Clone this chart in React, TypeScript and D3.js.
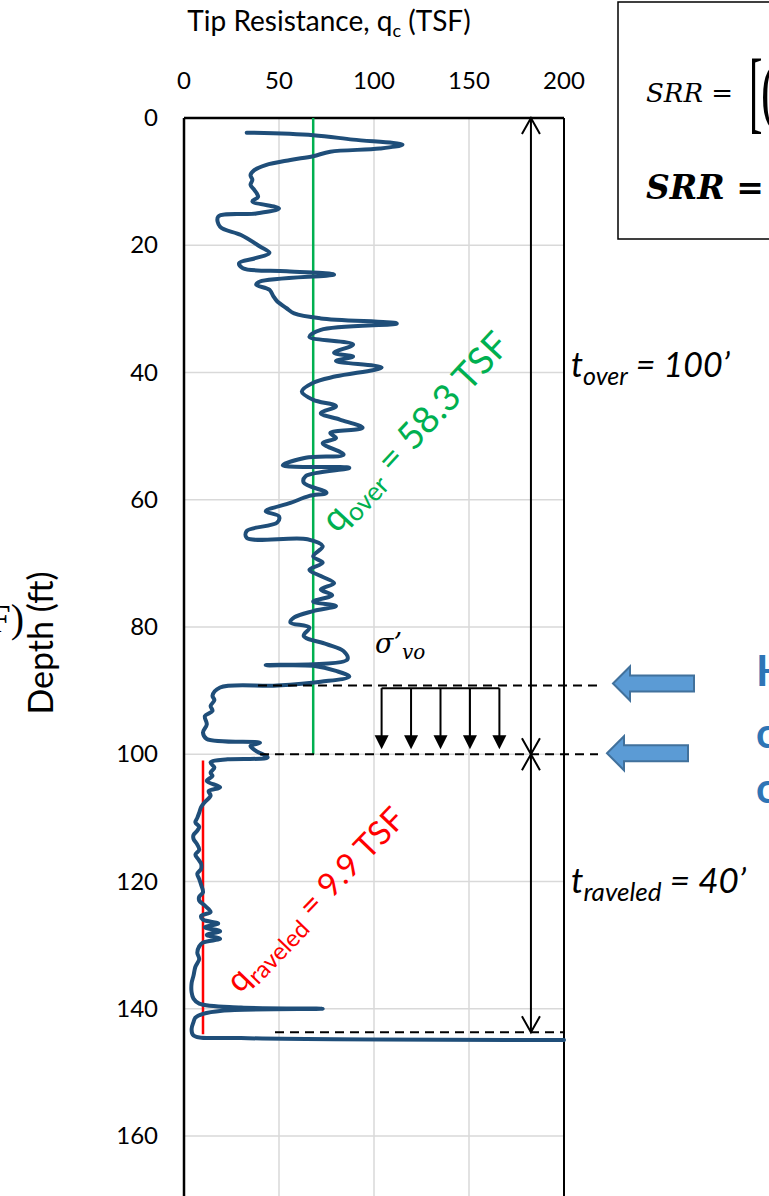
import React from 'react';
import * as d3 from 'd3';

// CPT sounding
const depthFt = [2.3, 2.7, 3.4, 4.2, 4.8, 5.3, 6.0, 6.6, 7.4, 8.2, 9.0, 9.7, 10.5, 11.3, 12.4, 13.1, 14.2, 15.0, 15.5, 17.1, 18.4, 20.2,
  21.2, 22.0, 22.8, 23.6, 24.1, 24.6, 25.7, 26.2, 27.0, 28.0, 28.8, 29.9, 30.7, 31.5, 32.3, 33.3, 34.4, 35.6, 36.9, 37.5, 38.2,
  39.2, 40.6, 41.6, 43.0, 44.3, 45.3, 46.4, 47.4, 48.7, 49.5, 50.3, 51.1, 52.9, 53.4, 54.6, 55.0, 56.3, 57.3, 58.9, 59.4,
  60.5, 61.8, 62.6, 63.6, 64.9, 66.0, 66.2, 67.3, 68.9, 69.9, 71.0, 72.0, 73.1, 74.1, 75.0, 76.0, 76.7, 77.5, 78.5, 79.3,
  80.1, 81.4, 82.7, 83.8, 85.1, 86.0, 86.1, 86.9, 87.8, 88.6, 89.2, 89.5, 90.8, 91.5, 92.4, 93.2, 94.0, 95.3, 96.6, 97.6, 98.2, 98.7, 99.5,
  100.5, 100.8, 101.3, 102.1, 102.9, 103.4, 104.2, 105.2, 105.8, 106.5, 107.5, 108.3, 109.2, 110.0, 110.7, 111.4, 112.0, 112.7, 113.3, 114.2,
  115.0, 115.8, 116.5, 117.2, 118.0, 118.8, 119.6, 120.5, 121.7, 122.4, 123.0, 123.8, 124.8, 125.4,
  126.0, 126.6, 127.2, 127.8, 128.4, 129.0, 129.6, 130.2, 131.2, 132.2, 133.4, 134.8, 136.0, 137.4, 138.4, 139.2, 139.8, 140.0, 140.3, 140.8,
  141.4, 142.1, 143.2, 144.2, 144.6, 144.9];
const qcTsf = [33, 68, 89, 115, 103, 77, 68, 56, 43, 37, 35, 36, 35, 37, 39, 36, 50, 38, 18, 19, 30, 40,
  45, 38, 29, 31, 54, 79, 40, 38, 45, 47, 49, 54, 58, 72, 112, 72, 66, 89, 79, 89, 80,
  104, 80, 68, 62, 68, 80, 72, 82, 94, 77, 80, 73, 84, 64, 52, 87, 64, 63, 75, 66,
  56, 43, 50, 49, 33, 33, 65, 73, 68, 73, 66, 72, 79, 72, 78, 68, 80, 68, 58, 56,
  66, 63, 75, 84, 86, 43, 68, 80, 87, 72, 49, 19, 15, 16, 14, 15, 11, 12, 10, 12, 40, 35, 38,
  44, 23, 14, 16, 14, 15, 12, 19, 13, 14, 11, 9, 8, 7, 6, 8, 7, 5, 5, 7,
  8, 6, 7.5, 9, 9, 7, 8, 9, 10, 8, 8, 11, 14, 9,
  10, 18, 11, 19, 12, 19, 10, 8, 7, 8, 6, 5, 4, 4, 5, 8, 30, 73, 20, 10,
  6, 5, 4, 5, 30, 200];

const xTicks = [0, 50, 100, 150, 200];
const yTicks = [0, 20, 40, 60, 80, 100, 120, 140, 160, 180];

// averages and layer limits (TSF / ft)
const qOver = 68;
const qRaveled = 10;
const overLayer = [0, 100];
const raveledLayer = [101, 144];
const stressTop = 89.3;
const dashDepths = [89.2, 100];
const baseDepth = 143.7;
const stressArrowsQc = [104, 119.5, 135, 150.5, 166];
const dimQc = 182.6;

const W = 769, H = 1196;
const font = 'Lato, "Open Sans", sans-serif';
const serif = '"DejaVu Serif", "Liberation Serif", serif';
const thinSerif = '"Liberation Serif", serif';

export default function App() {
  const x = d3.scaleLinear().domain([0, 200]).range([184, 564]);
  const y = d3.scaleLinear().domain([0, 160]).range([118, 1136]);

  const pts: [number, number][] = depthFt.map((d, i) => [qcTsf[i], d]);
  const line = d3.line<[number, number]>().x(p => x(p[0])).y(p => y(p[1])).curve(d3.curveCatmullRom.alpha(0.5));

  const vHead = (cx: number, cy: number, dir: number) =>
    `M${cx - 9},${cy + dir * 16}L${cx},${cy}L${cx + 9},${cy + dir * 16}`;

  const blockArrow = (tipX: number, cy: number, endX: number) => {
    const hw = 17, sw = 8, hl = 17;
    return `M${tipX},${cy}L${tipX + hl},${cy - hw}L${tipX + hl},${cy - sw}L${endX},${cy - sw}L${endX},${cy + sw}L${tipX + hl},${cy + sw}L${tipX + hl},${cy + hw}Z`;
  };

  return (
    <svg width={W} height={H} style={{ position: 'absolute', left: 0, top: 0, background: '#fff' }}>
      {/* grid */}
      {xTicks.slice(1, -1).map(t => (
        <line key={'gx' + t} x1={x(t)} x2={x(t)} y1={y(0)} y2={H} stroke="#d9d9d9" strokeWidth={1.5} />
      ))}
      {yTicks.slice(1).map(t => (
        <line key={'gy' + t} x1={x(0)} x2={x(200)} y1={y(t)} y2={y(t)} stroke="#d9d9d9" strokeWidth={1.5} />
      ))}
      {/* frame */}
      <line x1={x(0)} x2={x(200)} y1={y(0)} y2={y(0)} stroke="#000" strokeWidth={2.5} />
      <line x1={x(0)} x2={x(0)} y1={y(0)} y2={H} stroke="#000" strokeWidth={2.5} />
      <line x1={x(200)} x2={x(200)} y1={y(0)} y2={H} stroke="#000" strokeWidth={2} />

      {/* tick labels */}
      {xTicks.map(t => (
        <text key={'tx' + t} x={x(t)} y={89} textAnchor="middle" fontFamily={font} fontSize={24}>{t}</text>
      ))}
      {yTicks.filter(t => y(t) < H).map(t => (
        <text key={'ty' + t} x={158} y={y(t) + 8} textAnchor="end" fontFamily={font} fontSize={24}>{t}</text>
      ))}
      <text x={329} y={31} textAnchor="middle" fontFamily={font} fontSize={28}>
        Tip Resistance, q<tspan fontSize={18} dy={6}>c</tspan><tspan dy={-6}> (TSF)</tspan>
      </text>
      <text x={24} y={632} textAnchor="end" fontFamily={thinSerif} fontSize={40}>F)</text>
      <text transform="translate(53,643) rotate(-90)" textAnchor="middle" fontFamily={font} fontSize={34} fill="#000">Depth (ft)</text>

      {/* averages */}
      <line x1={x(qOver)} x2={x(qOver)} y1={y(overLayer[0])} y2={y(overLayer[1])} stroke="#00b050" strokeWidth={2.5} />
      <line x1={x(qRaveled)} x2={x(qRaveled)} y1={y(raveledLayer[0])} y2={y(raveledLayer[1])} stroke="#ff0000" strokeWidth={2.5} />

      {/* CPT trace */}
      <path d={line(pts) || ''} fill="none" stroke="#1f4e79" strokeWidth={4} strokeLinejoin="round" strokeLinecap="round" />

      {/* dashed layer boundaries */}
      {dashDepths.map((d, i) => (
        <line key={'dl' + i} x1={i === 0 ? 258 : 260} x2={598} y1={y(d)} y2={y(d)} stroke="#000" strokeWidth={2} strokeDasharray="9,6" />
      ))}
      <line x1={275} x2={x(200)} y1={y(baseDepth)} y2={y(baseDepth)} stroke="#000" strokeWidth={2} strokeDasharray="9,6" />

      {/* overburden stress arrows */}
      <line x1={x(stressArrowsQc[0])} x2={x(stressArrowsQc[stressArrowsQc.length - 1])} y1={y(stressTop) + 2} y2={y(stressTop) + 2} stroke="#000" strokeWidth={2} />
      {stressArrowsQc.map(q => (
        <g key={'sa' + q}>
          <line x1={x(q)} x2={x(q)} y1={y(stressTop) + 2} y2={y(99.2) - 12} stroke="#000" strokeWidth={2} />
          <path d={`M${x(q) - 7},${y(99.2) - 14}L${x(q) + 7},${y(99.2) - 14}L${x(q)},${y(99.2)}Z`} fill="#000" />
        </g>
      ))}
      <text x={375} y={653} fontFamily={serif} fontStyle="italic" fontSize={27}>σ’<tspan fontSize={20} dy={6}>vo</tspan></text>

      {/* thickness dimensions */}
      <line x1={x(dimQc)} x2={x(dimQc)} y1={y(0)} y2={y(100)} stroke="#000" strokeWidth={2} />
      <path d={vHead(x(dimQc), y(0), 1)} fill="none" stroke="#000" strokeWidth={2} />
      <path d={vHead(x(dimQc), y(100), -1)} fill="none" stroke="#000" strokeWidth={2} />
      <line x1={x(dimQc)} x2={x(dimQc)} y1={y(100)} y2={y(baseDepth)} stroke="#000" strokeWidth={2} />
      <path d={vHead(x(dimQc), y(100), 1)} fill="none" stroke="#000" strokeWidth={2} />
      <path d={vHead(x(dimQc), y(baseDepth), -1)} fill="none" stroke="#000" strokeWidth={2} />

      <text x={571} y={377} fontFamily={font} fontStyle="italic" fontSize={34}>t<tspan fontSize={25} dy={8}>over</tspan><tspan dy={-8}> = 100’</tspan></text>
      <text x={571} y={893} fontFamily={font} fontStyle="italic" fontSize={35}>t<tspan fontSize={26} dy={8}>raveled</tspan><tspan dy={-8}> = 40’</tspan></text>

      {/* rotated value labels */}
      <text transform="translate(337,534) rotate(-47)" fontFamily={font} fontSize={37} fill="#00b050">
        q<tspan fontSize={26} dy={7}>over</tspan><tspan dy={-7}> = 58.3 TSF</tspan>
      </text>
      <text transform="translate(240,994) rotate(-46)" fontFamily={font} fontSize={33} fill="#ff0000">
        q<tspan fontSize={24} dy={7}>raveled</tspan><tspan dy={-7}> = 9.9 TSF</tspan>
      </text>

      {/* block arrows and side text */}
      <path d={blockArrow(613, y(dashDepths[0]) - 2, 694)} fill="#5b9bd5" stroke="#41719c" strokeWidth={2} />
      <path d={blockArrow(607, y(dashDepths[1]) - 1, 688)} fill="#5b9bd5" stroke="#41719c" strokeWidth={2} />
      <text x={756} y={686} fontFamily={font} fontWeight="bold" fontSize={42} fill="#2e75b6">Ho</text>
      <text x={756} y={748} fontFamily={font} fontWeight="bold" fontSize={42} fill="#2e75b6">co</text>
      <text x={756} y={803} fontFamily={font} fontWeight="bold" fontSize={42} fill="#2e75b6">ca</text>

      {/* equation box */}
      <rect x={618} y={2} width={200} height={237} fill="#fff" stroke="#000" strokeWidth={1.5} />
      <text x={646} y={102} fontFamily={serif} fontStyle="italic" fontSize={26}>SRR =</text>
      <text transform="translate(749,122) scale(0.45,1)" fontFamily={thinSerif} fontWeight={300} fontSize={90}>[</text>
      <text transform="translate(761,116) scale(0.6,1)" fontFamily={thinSerif} fontSize={76}>(</text>
      <text x={646} y={199} fontFamily={serif} fontStyle="italic" fontWeight="bold" fontSize={33}>SRR =</text>
    </svg>
  );
}
